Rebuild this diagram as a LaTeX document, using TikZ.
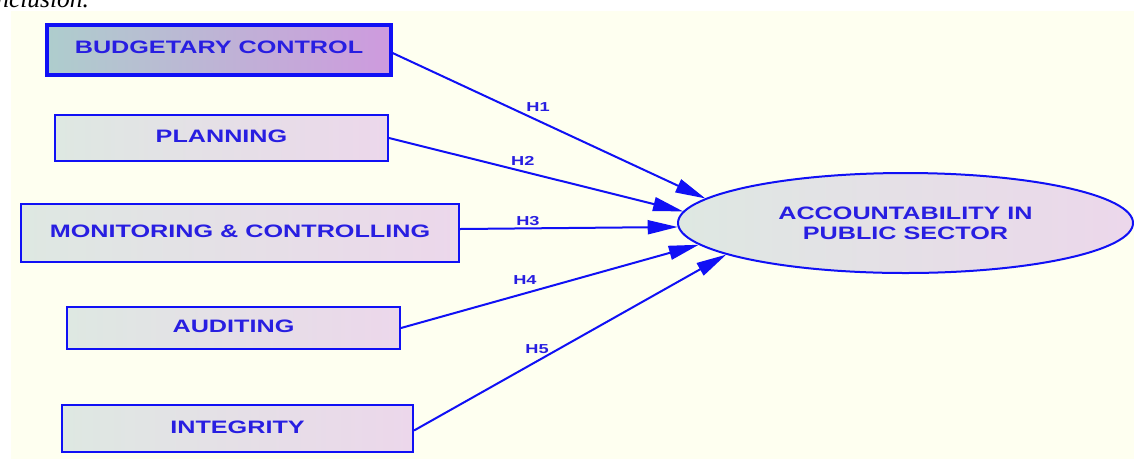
\documentclass[tikz,border=0pt]{standalone}
\usepackage{fontspec}
\usetikzlibrary{shapes.geometric,arrows.meta}
\newfontfamily\boxfont[FakeStretch=1.4]{Liberation Sans}
\newfontfamily\capfont{Liberation Serif}

\definecolor{bgyellow}{RGB}{254,255,240}
\definecolor{edgeblue}{RGB}{16,16,245}
\definecolor{textblue}{RGB}{40,30,225}
\definecolor{fillgreen}{RGB}{222,232,226}
\definecolor{filllav}{RGB}{236,215,235}
\definecolor{fillteal}{RGB}{174,205,205}
\definecolor{fillorchid}{RGB}{206,154,222}

\tikzset{
  varbox/.style={draw=edgeblue, line width=2pt, rectangle, inner sep=0pt,
    left color=fillgreen, right color=filllav, text=textblue, text depth=3pt,
    font=\boxfont\bfseries\fontsize{18}{20}\selectfont},
  keybox/.style={varbox, line width=3.2pt, left color=fillteal, right color=fillorchid,
    text depth=6pt},
  outcome/.style={draw=edgeblue, line width=2pt, ellipse, inner sep=0pt,
    left color=fillgreen, right color=filllav, text=textblue, align=center,
    font=\boxfont\bfseries\fontsize{18}{20}\selectfont},
  edge/.style={draw=edgeblue, line width=2pt, -{Triangle[length=30pt,width=14pt]}},
  lbl/.style={text=textblue, inner sep=0pt, font=\boxfont\bfseries\fontsize{13}{13}\selectfont},
}

\begin{document}
\begin{tikzpicture}[x=1pt, y=-1pt]
  \useasboundingbox (0,0) rectangle (1134,459);
  \clip (0,0) rectangle (1134,459);

  % page fragment above the figure
  \node[anchor=base west, inner sep=0pt, font=\capfont\itshape\fontsize{25.5}{25.5}\selectfont]
    (caption) at (-28,7) {conclusion.};

  % figure background
  \fill[bgyellow] (11,11) rectangle (1134,459);

  % independent variables
  \node[keybox, minimum width=344pt, minimum height=50pt] (b1) at (219,50) {BUDGETARY CONTROL};
  \node[varbox, minimum width=333pt, minimum height=46pt] (b2) at (221.5,138) {PLANNING};
  \node[varbox, minimum width=438pt, minimum height=58pt] (b3) at (240,233) {MONITORING \& CONTROLLING};
  \node[varbox, minimum width=333pt, minimum height=42pt] (b4) at (233.5,328) {AUDITING};
  \node[varbox, minimum width=351pt, minimum height=47pt] (b5) at (237.5,428.5) {INTEGRITY};

  % dependent variable
  \node[outcome, minimum width=455pt, minimum height=100pt] (acc) at (905.5,223)
    {ACCOUNTABILITY IN\\PUBLIC SECTOR};

  % hypotheses
  \draw[edge] ([yshift=-3pt]b1.east) -- (acc.173.4)
    node[lbl, pos=.465, yshift=14pt] (h1) {H1};
  \draw[edge] (b2.east) -- (acc.177.4)
    node[lbl, pos=.455, yshift=10.5pt] (h2) {H2};
  \draw[edge] ([yshift=4pt]b3.east) -- (acc.181.5)
    node[lbl, pos=.312, yshift=7pt] (h3) {H3};
  \draw[edge] (b4.east) -- (acc.186.6)
    node[lbl, pos=.416, yshift=13.5pt] (h4) {H4};
  \draw[edge] ([yshift=-2pt]b5.east) -- (acc.190.2)
    node[lbl, pos=.394, yshift=12.5pt] (h5) {H5};
\end{tikzpicture}
\end{document}
